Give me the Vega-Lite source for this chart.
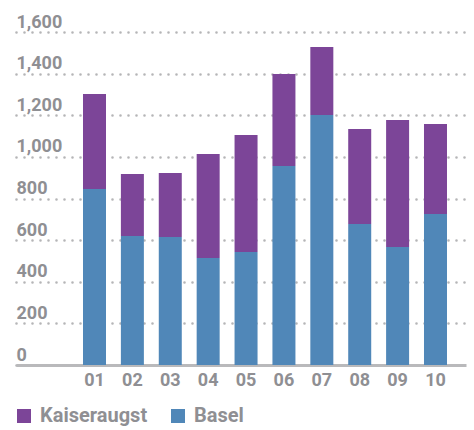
{
  "$schema": "https://vega.github.io/schema/vega-lite/v6.json",
  "width": 450,
  "height": 333,
  "autosize": {"type": "none"},
  "padding": {"left": 16, "top": 32, "right": 8, "bottom": 65},
  "background": "white",
  "config": {"view": {"stroke": null}, "font": "Roboto"},
  "data": {
    "values": [
      {"month": "01", "site": "Basel", "value": 846},
      {"month": "01", "site": "Kaiseraugst", "value": 456},
      {"month": "02", "site": "Basel", "value": 620},
      {"month": "02", "site": "Kaiseraugst", "value": 298},
      {"month": "03", "site": "Basel", "value": 615},
      {"month": "03", "site": "Kaiseraugst", "value": 307},
      {"month": "04", "site": "Basel", "value": 514},
      {"month": "04", "site": "Kaiseraugst", "value": 500},
      {"month": "05", "site": "Basel", "value": 543},
      {"month": "05", "site": "Kaiseraugst", "value": 562},
      {"month": "06", "site": "Basel", "value": 956},
      {"month": "06", "site": "Kaiseraugst", "value": 442},
      {"month": "07", "site": "Basel", "value": 1201},
      {"month": "07", "site": "Kaiseraugst", "value": 327},
      {"month": "08", "site": "Basel", "value": 677},
      {"month": "08", "site": "Kaiseraugst", "value": 457},
      {"month": "09", "site": "Basel", "value": 567},
      {"month": "09", "site": "Kaiseraugst", "value": 610},
      {"month": "10", "site": "Basel", "value": 725},
      {"month": "10", "site": "Kaiseraugst", "value": 433}
    ]
  },
  "mark": {"type": "bar"},
  "encoding": {
    "x": {
      "field": "month",
      "type": "ordinal",
      "scale": {
        "domain": [" ", "01", "02", "03", "04", "05", "06", "07", "08", "09", "10"],
        "paddingInner": 0.393,
        "paddingOuter": 0.635,
        "align": 0.605
      },
      "axis": {
        "title": null,
        "labelAngle": 0,
        "domain": true,
        "domainColor": "#b9b9bb",
        "domainWidth": 3,
        "ticks": false,
        "tickSize": 0,
        "labelPadding": 6,
        "labelFont": "Roboto",
        "labelFontWeight": "bold",
        "labelFontSize": 18,
        "labelColor": "#8f8f93",
        "grid": false
      }
    },
    "y": {
      "field": "value",
      "type": "quantitative",
      "stack": "zero",
      "scale": {"domain": [0, 1600], "nice": false},
      "axis": {
        "title": null,
        "values": [0, 200, 400, 600, 800, 1000, 1200, 1400, 1600],
        "format": ",.0f",
        "domain": false,
        "ticks": false,
        "tickSize": 0,
        "labelPadding": 0,
        "labelAlign": "left",
        "labelBaseline": "alphabetic",
        "labelOffset": -5,
        "labelFont": "Roboto",
        "labelFontWeight": "bold",
        "labelFontSize": 18,
        "labelColor": "#8f8f93",
        "grid": true,
        "gridColor": "#b5b5b7",
        "gridDash": [0, 8],
        "gridCap": "round",
        "gridWidth": 2.6
      }
    },
    "order": {"field": "site", "sort": "ascending"},
    "color": {
      "field": "site",
      "type": "nominal",
      "scale": {"domain": ["Kaiseraugst", "Basel"], "range": ["#7c4598", "#5087b8"]},
      "legend": {
        "title": null,
        "orient": "none",
        "legendX": -2,
        "legendY": 374,
        "direction": "horizontal",
        "symbolType": "square",
        "symbolSize": 196,
        "symbolStrokeWidth": 0,
        "labelFont": "Roboto",
        "labelFontWeight": "bold",
        "labelFontSize": 20,
        "labelColor": "#8f8f93",
        "labelOffset": 6,
        "columnPadding": 20
      }
    }
  }
}
